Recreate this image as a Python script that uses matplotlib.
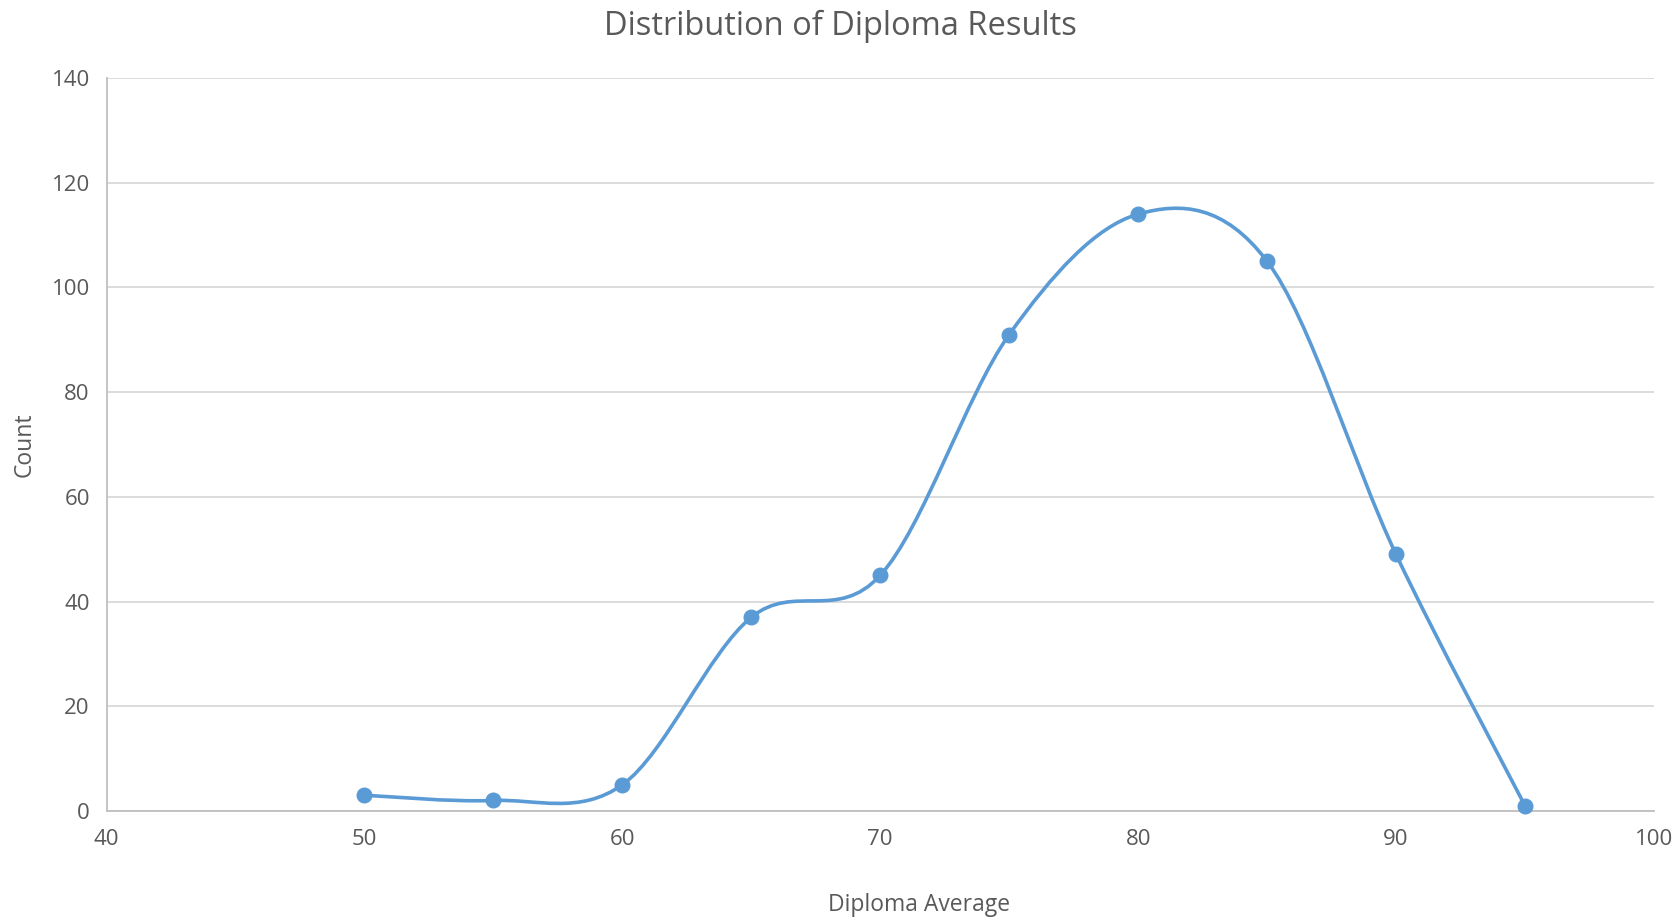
import numpy as np
import matplotlib
matplotlib.use("Agg")
import matplotlib.pyplot as plt
from matplotlib.path import Path
from matplotlib.patches import PathPatch

# diploma averages (bin centres) and how many students fall in each
averages = [50, 55, 60, 65, 70, 75, 80, 85, 90, 95]
counts = [3, 2, 5, 37, 45, 91, 114, 105, 49, 1]

x_ticks = [40, 50, 60, 70, 80, 90, 100]
y_ticks = [0, 20, 40, 60, 80, 100, 120, 140]

blue = "#5b9bd5"
grey_text = "#595959"

plt.rcParams["font.family"] = ["Open Sans", "DejaVu Sans"]


def smooth_path(xs, ys):
    # spreadsheet-style smoothed line: cubic bezier through every point,
    # control points taken from the neighbouring points (catmull-rom)
    pts = np.column_stack([xs, ys]).astype(float)
    padded = np.vstack([pts[0], pts, pts[-1]])
    verts = [pts[0]]
    codes = [Path.MOVETO]
    for i in range(len(pts) - 1):
        p0, p1, p2, p3 = padded[i], padded[i + 1], padded[i + 2], padded[i + 3]
        c1 = p1 + (p2 - p0) / 6.0
        c2 = p2 - (p3 - p1) / 6.0
        verts += [c1, c2, p2]
        codes += [Path.CURVE4] * 3
    return Path(verts, codes)


fig = plt.figure(figsize=(16.8, 9.18), dpi=100)
ax = fig.add_axes([0.0634, 0.1166, 0.9211, 0.7984])

ax.add_patch(PathPatch(smooth_path(averages, counts), facecolor="none",
                       edgecolor=blue, linewidth=2.6, capstyle="round",
                       joinstyle="round", zorder=3))
ax.plot(averages, counts, linestyle="none", marker="o", markersize=10.5,
        color=blue, zorder=4, clip_on=False)

ax.set_xlim(40, 100)
ax.set_ylim(0, 140)
ax.set_xticks(x_ticks)
ax.set_yticks(y_ticks)

ax.grid(axis="y", color="#d9d9d9", linewidth=1.3)
ax.set_axisbelow(True)
for side in ["top", "right"]:
    ax.spines[side].set_visible(False)
ax.spines["left"].set_color("#bfbfbf")
ax.spines["bottom"].set_color("#bfbfbf")
ax.spines["left"].set_linewidth(1.3)
ax.spines["bottom"].set_linewidth(1.3)

ax.tick_params(axis="both", length=0, labelsize=16, labelcolor=grey_text)
ax.tick_params(axis="x", pad=13)
ax.tick_params(axis="y", pad=12)

# titles placed on the figure, like a spreadsheet chart area
fig.text(0.5, 0.971, "Distribution of Diploma Results", fontsize=23.5,
         color=grey_text, ha="center", va="center")
fig.text(0.547, 0.0145, "Diploma Average", fontsize=16.5,
         color=grey_text, ha="center", va="center")
fig.text(0.0147, 0.516, "Count", fontsize=16.5, color=grey_text,
         ha="center", va="center", rotation=90)

fig.savefig("out.png", dpi=100, facecolor="white")
